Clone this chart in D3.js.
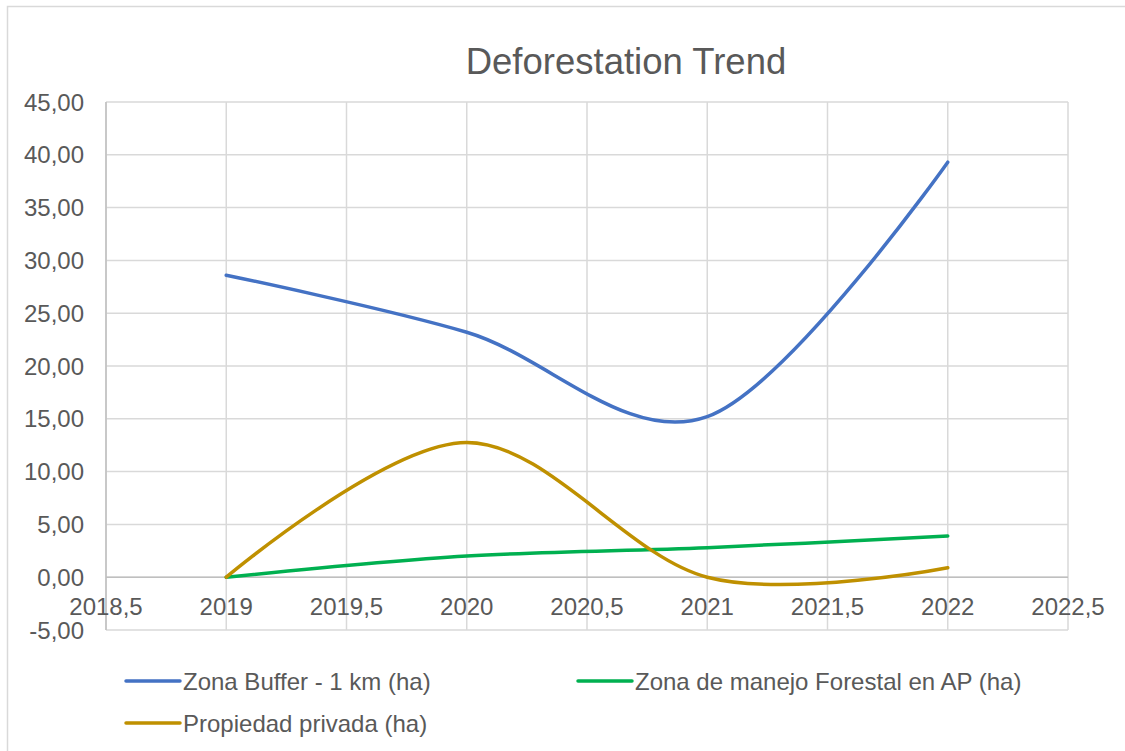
<!DOCTYPE html>
<html>
<head>
<meta charset="utf-8">
<script src="https://cdn.jsdelivr.net/npm/d3@7"></script>
<style>
  body { margin: 0; background: #fff; }
  text { font-family: "Liberation Sans", Arial, sans-serif; fill: #595959; }
</style>
</head>
<body>
<div class="chart-wrapper"></div>
<script>
var years = [2019, 2020, 2021, 2022];
var buffer = [28.6, 23.2, 15.2, 39.3];
var manejo = [0.0, 2.0, 2.8, 3.9];
var privada = [0.0, 12.75, 0.0, 0.9];
var seriesNames = ["Zona Buffer - 1 km (ha)", "Zona de manejo Forestal en AP (ha)", "Propiedad privada (ha)"];
var seriesColors = ["#4472C4", "#00B050", "#BF9000"];
var xTicks = [2018.5, 2019, 2019.5, 2020, 2020.5, 2021, 2021.5, 2022, 2022.5];
var yTicks = [-5, 0, 5, 10, 15, 20, 25, 30, 35, 40, 45];

var width = 1125, height = 751;

var svg = d3.select(".chart-wrapper").append("svg")
    .attr("width", width)
    .attr("height", height);

// outer chart border
svg.append("rect")
    .attr("x", 7.5).attr("y", 6.5)
    .attr("width", 1130).attr("height", 760)
    .attr("fill", "none")
    .attr("stroke", "#d9d9d9")
    .attr("stroke-width", 1.5);

var x = d3.scaleLinear().domain([2018.5, 2022.5]).range([106, 1068]);
var y = d3.scaleLinear().domain([-5, 45]).range([630, 102]);

var fmt = function(v) { return v.toFixed(2).replace(".", ","); };
var fmtX = function(v) { return String(v).replace(".", ","); };

// gridlines
svg.append("g").selectAll("line")
    .data(yTicks)
    .enter().append("line")
    .attr("x1", x.range()[0]).attr("x2", x.range()[1])
    .attr("y1", function(d) { return y(d); })
    .attr("y2", function(d) { return y(d); })
    .attr("stroke", "#d9d9d9")
    .attr("stroke-width", 1.5);

svg.append("g").selectAll("line")
    .data(xTicks)
    .enter().append("line")
    .attr("x1", function(d) { return x(d); })
    .attr("x2", function(d) { return x(d); })
    .attr("y1", y.range()[0]).attr("y2", y.range()[1])
    .attr("stroke", "#d9d9d9")
    .attr("stroke-width", 1.5);

// axis lines
svg.append("line")
    .attr("x1", x(2018.5)).attr("x2", x(2018.5))
    .attr("y1", y(-5)).attr("y2", y(45))
    .attr("stroke", "#bfbfbf").attr("stroke-width", 1.5);
svg.append("line")
    .attr("x1", x(2018.5)).attr("x2", x(2022.5))
    .attr("y1", y(0)).attr("y2", y(0))
    .attr("stroke", "#bfbfbf").attr("stroke-width", 1.5);

// y labels
svg.append("g").selectAll("text")
    .data(yTicks)
    .enter().append("text")
    .attr("x", 84)
    .attr("y", function(d) { return y(d); })
    .attr("dy", "0.36em")
    .attr("text-anchor", "end")
    .style("font-size", "24px")
    .text(fmt);

// x labels
svg.append("g").selectAll("text")
    .data(xTicks)
    .enter().append("text")
    .attr("x", function(d) { return x(d); })
    .attr("y", 615)
    .attr("text-anchor", "middle")
    .style("font-size", "24px")
    .text(fmtX);

// title
svg.append("text")
    .attr("x", 626)
    .attr("y", 74)
    .attr("text-anchor", "middle")
    .style("font-size", "36.5px")
    .text("Deforestation Trend");

// series
var line = d3.line()
    .x(function(d) { return x(d[0]); })
    .y(function(d) { return y(d[1]); })
    .curve(d3.curveCatmullRom.alpha(0));

[buffer, manejo, privada].forEach(function(vals, i) {
    svg.append("path")
        .datum(years.map(function(yr, j) { return [yr, vals[j]]; }))
        .attr("d", line)
        .attr("fill", "none")
        .attr("stroke", seriesColors[i])
        .attr("stroke-width", 3.5)
        .attr("stroke-linecap", "round");
});

// legend
var legendPos = [[126, 681], [578, 681], [126, 723]];
var lg = svg.append("g").selectAll("g")
    .data(seriesNames)
    .enter().append("g")
    .attr("transform", function(d, i) { return "translate(" + legendPos[i][0] + "," + legendPos[i][1] + ")"; });

lg.append("line")
    .attr("x1", 0).attr("x2", 54)
    .attr("stroke", function(d, i) { return seriesColors[i]; })
    .attr("stroke-width", 3.5)
    .attr("stroke-linecap", "round");

lg.append("text")
    .attr("x", 57)
    .attr("dy", "0.36em")
    .style("font-size", "24px")
    .text(function(d) { return d; });
</script>
</body>
</html>
